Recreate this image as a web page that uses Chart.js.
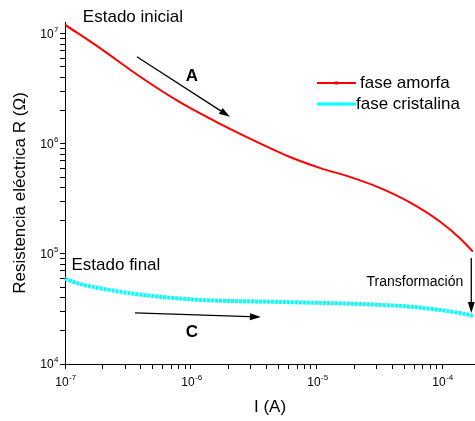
<!DOCTYPE html>
<html>
<head>
<meta charset="utf-8">
<script src="https://cdn.jsdelivr.net/npm/chart.js@4"></script>
<style>
  html, body { margin: 0; padding: 0; background: #fff; }
</style>
</head>
<body>
<canvas id="chart" width="475" height="421"></canvas>
<script>
// fase amorfa (red) : current (A) and resistance (ohm)
const amorfaI = [1e-7, 1.9e-7, 3.94e-7, 8.2e-7, 1.71e-6, 3.55e-6, 6.15e-6, 1.06e-5, 1.84e-5, 3.19e-5, 5.52e-5, 9.57e-5, 1.38e-4, 1.75e-4]
const amorfaR = [1.21e7, 7.41e6, 4.09e6, 2.39e6, 1.52e6, 1.01e6, 7.59e5, 6.05e5, 5.01e5, 3.98e5, 2.94e5, 1.97e5, 1.39e5, 1.05e5]
// fase cristalina (cyan)
const cristalinaI = [1e-7, 1.32e-7, 1.9e-7, 3.28e-7, 5.68e-7, 1.18e-6, 4.24e-6, 8.8e-6, 2.19e-5, 5.47e-5, 9.46e-5, 1.64e-4, 1.75e-4]
const cristalinaR = [5.93e4, 5.34e4, 4.88e4, 4.4e4, 4.09e4, 3.82e4, 3.68e4, 3.61e4, 3.51e4, 3.32e4, 3.1e4, 2.79e4, 2.73e4]

const xDecades = [-7, -6, -5, -4]
const yDecades = [4, 5, 6, 7]
const xRange = [1e-7, 1.82e-4]
const yRange = [1e4, 1.28e7]

// annotations in data coordinates
const labels = [
  { text: 'Estado inicial', x: 3.47e-7, y: 1.4e7, bold: false, size: 17 },
  { text: 'Estado final', x: 2.54e-7, y: 7.94e4, bold: false, size: 17 },
  { text: 'A', x: 1.02e-6, y: 4.15e6, bold: true, size: 17 },
  { text: 'C', x: 1.02e-6, y: 1.95e4, bold: true, size: 17 },
  { text: 'Transformación', x: 6.05e-5, y: 5.56e4, bold: false, size: 14 }
]
const arrows = [
  { from: [3.73e-7, 6.18e6], to: [2.05e-6, 1.76e6] },
  { from: [3.6e-7, 2.91e4], to: [3.61e-6, 2.67e4] },
  { from: [1.7e-4, 9.2e4], to: [1.7e-4, 2.91e4] }
]

const FONT = "'Liberation Sans', Arial, sans-serif"

const isDecade = v => Math.abs(Math.log10(v) - Math.round(Math.log10(v))) < 1e-6

function logTicks (decades, min, max) {
  const out = []
  decades.concat([decades[decades.length - 1] + 1]).forEach(e => {
    for (let m = 1; m <= 9; m++) {
      const v = m * Math.pow(10, e)
      if (v >= min * 0.999 && v <= max * 1.001) out.push({ value: v, major: m === 1 })
    }
  })
  return out
}

// draws "10" with a raised exponent
function powerLabel (ctx, exp, x, y, align) {
  const base = '10'
  const e = String(exp)
  ctx.font = '12px ' + FONT
  const wb = ctx.measureText(base).width
  ctx.font = '8px ' + FONT
  const we = ctx.measureText(e).width
  const start = align === 'center' ? x - (wb + we) / 2 : x - wb - we
  ctx.textAlign = 'left'
  ctx.textBaseline = 'middle'
  ctx.font = '12px ' + FONT
  ctx.fillText(base, start, y)
  ctx.font = '8px ' + FONT
  ctx.fillText(e, start + wb + 0.5, y - 5)
}

const extras = {
  id: 'extras',
  afterDraw (chart) {
    const ctx = chart.ctx
    const xs = chart.scales.x
    const ys = chart.scales.y
    const area = chart.chartArea
    ctx.save()
    ctx.strokeStyle = '#000'
    ctx.fillStyle = '#000'

    // decade labels
    xs.ticks.filter(t => isDecade(t.value)).forEach(t => {
      powerLabel(ctx, Math.round(Math.log10(t.value)), Math.round(xs.getPixelForValue(t.value)) + 0.5, area.bottom + 19, 'center')
    })
    ys.ticks.filter(t => isDecade(t.value)).forEach(t => {
      powerLabel(ctx, Math.round(Math.log10(t.value)), area.left - 7, Math.round(ys.getPixelForValue(t.value)) + 0.5, 'right')
    })

    // arrows
    arrows.forEach(a => {
      const x1 = xs.getPixelForValue(a.from[0]); const y1 = ys.getPixelForValue(a.from[1])
      const x2 = xs.getPixelForValue(a.to[0]); const y2 = ys.getPixelForValue(a.to[1])
      const ang = Math.atan2(y2 - y1, x2 - x1)
      const hl = 11; const hw = 3.5
      const bx = x2 - hl * Math.cos(ang); const by = y2 - hl * Math.sin(ang)
      ctx.lineWidth = 1.3
      ctx.beginPath(); ctx.moveTo(x1, y1); ctx.lineTo(bx, by); ctx.stroke()
      ctx.beginPath()
      ctx.moveTo(x2, y2)
      ctx.lineTo(bx + hw * Math.sin(ang), by - hw * Math.cos(ang))
      ctx.lineTo(bx - hw * Math.sin(ang), by + hw * Math.cos(ang))
      ctx.closePath(); ctx.fill()
    })

    // text labels
    ctx.textAlign = 'center'
    ctx.textBaseline = 'middle'
    labels.forEach(l => {
      ctx.font = (l.bold ? 'bold ' : '') + l.size + 'px ' + FONT
      ctx.fillText(l.text, xs.getPixelForValue(l.x), ys.getPixelForValue(l.y))
    })

    // legend
    const lx = area.left + 252
    const ly = area.top + 61
    ctx.font = '17px ' + FONT
    ctx.textAlign = 'left'
    chart.data.datasets.forEach((ds, i) => {
      const yy = ly + i * 21
      ctx.strokeStyle = ds.borderColor
      ctx.lineWidth = i === 0 ? 2 : 3
      ctx.beginPath(); ctx.moveTo(lx, yy); ctx.lineTo(lx + 39, yy); ctx.stroke()
      ctx.fillStyle = ds.borderColor
      ctx.fillRect(lx + 18, yy - 1.5, 3, 3)
      ctx.fillStyle = '#000'
      ctx.fillText(ds.label, lx + (i === 0 ? 43 : 39), yy)
    })
    ctx.restore()
  }
}

const axisGrid = { display: true, drawOnChartArea: false, drawTicks: true, tickLength: 5, tickColor: '#000', tickWidth: 1 }

const ctx = document.getElementById('chart').getContext('2d')
// eslint-disable-next-line
new Chart(ctx, {
  type: 'line',
  data: {
    datasets: [
      {
        label: 'fase amorfa',
        data: amorfaI.map((v, i) => ({ x: v, y: amorfaR[i] })),
        borderColor: '#ff0000',
        backgroundColor: '#ff0000',
        borderWidth: 2,
        pointRadius: 0,
        cubicInterpolationMode: 'monotone'
      },
      {
        label: 'fase cristalina',
        data: cristalinaI.map((v, i) => ({ x: v, y: cristalinaR[i] })),
        borderColor: '#00ffff',
        backgroundColor: '#00ffff',
        borderWidth: 4,
        borderDash: [3, 1],
        pointRadius: 0,
        cubicInterpolationMode: 'monotone'
      }
    ]
  },
  options: {
    responsive: false,
    animation: false,
    devicePixelRatio: 1,
    layout: { padding: { top: 22, right: 0, bottom: 0, left: 0 } },
    plugins: { legend: { display: false }, tooltip: { enabled: false } },
    scales: {
      x: {
        type: 'logarithmic',
        min: xRange[0],
        max: xRange[1],
        afterBuildTicks: s => { s.ticks = logTicks(xDecades, xRange[0], xRange[1]) },
        afterFit: s => { s.height = 57 },
        grid: axisGrid,
        border: { display: true, color: '#000', width: 1 },
        ticks: { display: false, autoSkip: false },
        title: {
          display: true,
          text: 'I (A)',
          color: '#000',
          font: { family: FONT, size: 17 },
          padding: { top: 0, bottom: 3 }
        }
      },
      y: {
        type: 'logarithmic',
        min: yRange[0],
        max: yRange[1],
        afterBuildTicks: s => { s.ticks = logTicks(yDecades, yRange[0], yRange[1]) },
        afterFit: s => { s.width = 65 },
        grid: axisGrid,
        border: { display: true, color: '#000', width: 1 },
        ticks: { display: false, autoSkip: false },
        title: {
          display: true,
          text: 'Resistencia eléctrica R (Ω)',
          color: '#000',
          font: { family: FONT, size: 17 },
          padding: { top: 10, bottom: 0 }
        }
      }
    }
  },
  plugins: [extras]
})
</script>
</body>
</html>
